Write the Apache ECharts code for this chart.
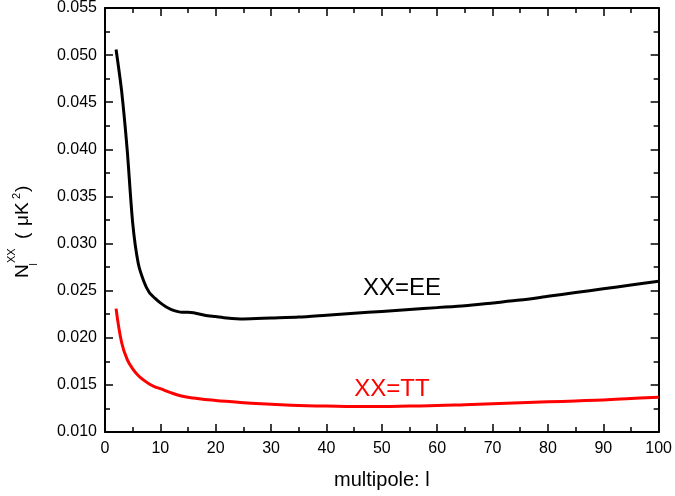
<!DOCTYPE html>
<html>
<head>
<meta charset="utf-8">
<script src="https://cdn.jsdelivr.net/npm/echarts@6/dist/echarts.min.js"></script>
<style>
html,body{margin:0;padding:0;background:#fff;}
#chart{width:675px;height:496px;}
</style>
</head>
<body>
<div id="chart"></div>
<script>
const eeX = [2,3,4,5,6,7,8,9,10,11,12,13,14,15,16,18,20,22,25,30,35,40,45,50,55,60,65,70,75,80,85,90,95,100];
const eeY = [0.0506,0.0462,0.0400,0.0322,0.0279,0.0260,0.0248,0.0242,0.0237,0.0233,0.0230,0.0228,0.0227,0.0227,0.02265,0.0224,0.02225,0.0221,0.0220,0.0221,0.0222,0.0224,0.0226,0.0228,0.0230,0.0232,0.0234,0.0237,0.0240,0.0244,0.0248,0.0252,0.0256,0.0260];
const ttX = [2,3,4,5,6,7,8,9,10,12,14,16,18,20,25,30,35,40,45,50,55,60,65,70,75,80,85,90,95,100];
const ttY = [0.0231,0.0195,0.0177,0.0167,0.0160,0.0155,0.0151,0.0148,0.0146,0.01415,0.0138,0.01360,0.01345,0.01335,0.0131,0.01295,0.0128,0.01275,0.0127,0.0127,0.01275,0.0128,0.0129,0.0130,0.0131,0.0132,0.0133,0.0134,0.01355,0.0137];
const seriesNames = ['XX=EE','XX=TT'];
const xTitle = 'multipole: l';

const FONT = 'Liberation Sans, Arial, sans-serif';
const chart = echarts.init(document.getElementById('chart'), null, {renderer:'canvas'});

const axisCommon = {
  axisLine:{show:true, onZero:false, lineStyle:{color:'#000', width:2}},
  axisTick:{show:true, inside:true, length:8, lineStyle:{color:'#000', width:1.5}},
  minorTick:{show:true, splitNumber:2, length:5, lineStyle:{color:'#000', width:1.5}},
  splitLine:{show:false}
};

const option = {
  animation:false,
  backgroundColor:'#fff',
  grid:{left:105, right:12, top:8, bottom:64, containLabel:false},
  xAxis:[
    Object.assign({}, axisCommon, {
      type:'value', min:0, max:100, interval:10, position:'bottom',
      axisLabel:{color:'#000', fontSize:16, fontFamily:FONT, margin:9},
      name:xTitle, nameLocation:'middle', nameGap:38,
      nameTextStyle:{color:'#000', fontSize:20, fontFamily:FONT}
    }),
    Object.assign({}, axisCommon, {
      type:'value', min:0, max:100, interval:10, position:'top',
      axisLabel:{show:false}
    })
  ],
  yAxis:[
    Object.assign({}, axisCommon, {
      type:'value', min:0.010, max:0.055, interval:0.005, position:'left',
      axisLabel:{color:'#000', fontSize:16, fontFamily:FONT, margin:8,
        formatter:v=>v.toFixed(3)}
    }),
    Object.assign({}, axisCommon, {
      type:'value', min:0.010, max:0.055, interval:0.005, position:'right',
      axisLabel:{show:false}
    })
  ],
  series:[
    {name:seriesNames[0], type:'line', showSymbol:false, symbol:'none',
     data:eeX.map((x,i)=>[x,eeY[i]]), lineStyle:{color:'#000', width:3}, smooth:0.25},
    {name:seriesNames[1], type:'line', showSymbol:false, symbol:'none',
     data:ttX.map((x,i)=>[x,ttY[i]]), lineStyle:{color:'#ff0000', width:3}, smooth:0.4}
  ],
  graphic:[
    {type:'text', x:402, y:288, style:{text:seriesNames[0], fill:'#000', font:'24px '+FONT, textAlign:'center', textVerticalAlign:'middle'}},
    {type:'text', x:392, y:389, style:{text:seriesNames[1], fill:'#ff0000', font:'24px '+FONT, textAlign:'center', textVerticalAlign:'middle'}},
    // rotated y-axis title: N_l^XX ( μK^2 )
    {type:'text', x:23, y:278, rotation:Math.PI/2, style:{text:'N', fill:'#000', font:'19px '+FONT, textAlign:'left', textVerticalAlign:'middle'}},
    {type:'text', x:34.5, y:265.5, rotation:Math.PI/2, style:{text:'l', fill:'#000', font:'10px '+FONT, textAlign:'left', textVerticalAlign:'middle'}},
    {type:'text', x:11.5, y:263, rotation:Math.PI/2, style:{text:'XX', fill:'#000', font:'11px '+FONT, textAlign:'left', textVerticalAlign:'middle'}},
    {type:'text', x:23, y:239, rotation:Math.PI/2, style:{text:'(', fill:'#000', font:'19px '+FONT, textAlign:'left', textVerticalAlign:'middle'}},
    {type:'text', x:23, y:226, rotation:Math.PI/2, style:{text:'μK', fill:'#000', font:'19px '+FONT, textAlign:'left', textVerticalAlign:'middle'}},
    {type:'text', x:16.5, y:199, rotation:Math.PI/2, style:{text:'2', fill:'#000', font:'11px '+FONT, textAlign:'left', textVerticalAlign:'middle'}},
    {type:'text', x:23, y:192, rotation:Math.PI/2, style:{text:')', fill:'#000', font:'19px '+FONT, textAlign:'left', textVerticalAlign:'middle'}}
  ]
};
chart.setOption(option);
</script>
</body>
</html>
